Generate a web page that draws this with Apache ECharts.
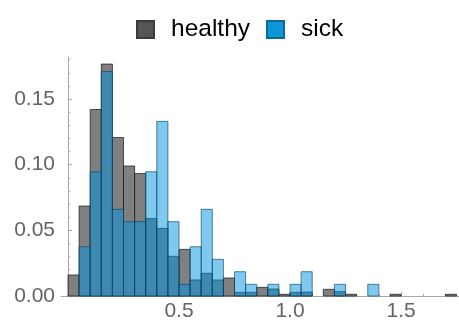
<!DOCTYPE html>
<html>
<head>
<meta charset="utf-8">
<script src="https://cdn.jsdelivr.net/npm/echarts@6/dist/echarts.min.js"></script>
<style>
html,body{margin:0;padding:0;background:#fff;}
#chart{width:459px;height:325px;}
</style>
</head>
<body>
<div id="chart"></div>
<script>
// Bin edges: width 0.05 starting at 0
const binStart = 0;
const binWidth = 0.05;
const healthy = [0.016, 0.0685, 0.142, 0.1766, 0.1207, 0.099, 0.0933, 0.059, 0.0515, 0.0302,
  0.0355, 0.0122, 0.0173, 0.0122, 0.0137, 0.0028, 0.0028, 0.0066, 0.0053, 0.0013,
  0.0028, 0.003, 0, 0.0051, 0.0033, 0.0013, 0, 0, 0, 0.0013,
  0, 0, 0, 0, 0.0013];
const sick = [0, 0.0375, 0.0946, 0.171, 0.066, 0.0566, 0.0566, 0.0946, 0.133, 0.0566,
  0.0089, 0.0375, 0.066, 0.0279, 0, 0.0185, 0.0089, 0, 0.0089, 0,
  0.0089, 0.0185, 0, 0, 0.0089, 0, 0, 0.0089, 0, 0,
  0, 0, 0, 0, 0];
const xTickLabels = [0.5, 1.0, 1.5];
const xMinorTicks = [0.1,0.2,0.3,0.4,0.6,0.7,0.8,0.9,1.1,1.2,1.3,1.4,1.6,1.7];
const yTickLabels = [0, 0.05, 0.10, 0.15];
const yMinorTicks = [0.01,0.02,0.03,0.04,0.06,0.07,0.08,0.09,0.11,0.12,0.13,0.14,0.16,0.17,0.18];

function toBins(arr){
  const out = [];
  arr.forEach((v,i)=>{ if (v > 0) out.push([binStart + i*binWidth, binStart + (i+1)*binWidth, v]); });
  return out;
}
function makeRender(fill, stroke){
  return function(params, api){
    const p0 = api.coord([api.value(0), 0]);
    const p1 = api.coord([api.value(1), api.value(2)]);
    return {
      type: 'rect',
      shape: {x: p0[0], y: p1[1], width: p1[0]-p0[0], height: p0[1]-p1[1]},
      style: {fill: fill, stroke: stroke, lineWidth: 1}
    };
  };
}
const FONT = "'Liberation Sans', Arial, sans-serif";
const xMin = -0.0315, xMax = 1.761, yMin = 0, yMax = 0.182;
const axisColor = '#a8a8a8';

const chart = echarts.init(document.getElementById('chart'));
chart.setOption({
  animation: false,
  textStyle: {fontFamily: FONT},
  legend: {
    data: ['healthy','sick'],
    top: 12, left: 131,
    icon: 'rect', itemWidth: 17, itemHeight: 17, itemGap: 16,
    textStyle: {fontSize: 24.5, color: '#000', fontFamily: FONT, padding: [0,0,0,12]}
  },
  grid: {left: 61, right: 0, top: 57, bottom: 29, containLabel: false},
  xAxis: [{
    type: 'value', min: xMin, max: xMax, position: 'bottom',
    axisLine: {show: true, lineStyle: {color: axisColor, width: 1}},
    axisTick: {show: true, inside: true, length: 4, customValues: xTickLabels, lineStyle: {color: axisColor}},
    axisLabel: {show: true, customValues: xTickLabels, margin: 5, fontSize: 21, color: '#646464', fontFamily: FONT,
      formatter: v => v.toFixed(1)},
    splitLine: {show: false}
  },{
    type: 'value', min: xMin, max: xMax, position: 'bottom',
    axisLine: {show: false},
    axisTick: {show: true, inside: true, length: 2, customValues: xMinorTicks, lineStyle: {color: axisColor}},
    axisLabel: {show: false},
    splitLine: {show: false}
  }],
  yAxis: [{
    type: 'value', min: yMin, max: yMax, position: 'left',
    axisLine: {show: true, lineStyle: {color: axisColor, width: 1}},
    axisTick: {show: true, inside: true, length: 4, customValues: yTickLabels, lineStyle: {color: axisColor}},
    axisLabel: {show: true, customValues: yTickLabels, margin: 6, fontSize: 21, color: '#646464', fontFamily: FONT,
      formatter: v => v.toFixed(2)},
    splitLine: {show: false}
  },{
    type: 'value', min: yMin, max: yMax, position: 'left',
    axisLine: {show: false},
    axisTick: {show: true, inside: true, length: 2, customValues: yMinorTicks, lineStyle: {color: axisColor}},
    axisLabel: {show: false},
    splitLine: {show: false}
  }],
  series: [{
    name: 'healthy', type: 'custom', xAxisIndex: 0, yAxisIndex: 0,
    itemStyle: {color: '#555555', borderColor: '#3a3a3a', borderWidth: 1},
    renderItem: makeRender('rgba(85,85,85,0.745)', 'rgba(30,30,30,0.75)'),
    encode: {x: [0,1], y: 2},
    data: toBins(healthy), z: 2
  },{
    name: 'sick', type: 'custom', xAxisIndex: 0, yAxisIndex: 0,
    itemStyle: {color: '#0e96d9', borderColor: '#0a6a9a', borderWidth: 1},
    renderItem: makeRender('rgba(0,145,221,0.5)', 'rgba(5,70,110,0.65)'),
    encode: {x: [0,1], y: 2},
    data: toBins(sick), z: 3
  }]
});
</script>
</body>
</html>
